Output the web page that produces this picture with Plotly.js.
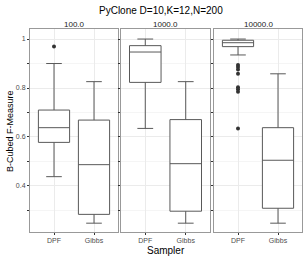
<!DOCTYPE html>
<html>
<head>
<meta charset="utf-8">
<script src="https://cdn.plot.ly/plotly-3.0.1.min.js"></script>
<style>html,body{margin:0;padding:0;background:#fff;}#chart{width:308px;height:260px;}</style>
</head>
<body>
<div id="chart"></div>
<script>
var categories = ['DPF', 'Gibbs'];
var panels = ['100.0', '1000.0', '10000.0'];

var q1 = [[0.578, 0.284], [0.823, 0.297], [0.969, 0.309]];
var median = [[0.638, 0.487], [0.947, 0.491], [0.985, 0.505]];
var q3 = [[0.710, 0.669], [0.973, 0.671], [0.995, 0.638]];
var lowerfence = [[0.438, 0.248], [0.635, 0.248], [0.935, 0.248]];
var upperfence = [[0.900, 0.826], [1.000, 0.826], [1.000, 0.858]];

var outlierCats = [['DPF'], [], ['DPF', 'DPF', 'DPF', 'DPF', 'DPF', 'DPF', 'DPF', 'DPF']];
var outlierVals = [[0.970], [], [0.894, 0.886, 0.876, 0.858, 0.803, 0.795, 0.785, 0.635]];

var font = 'Liberation Sans, Arial, sans-serif';
var data = [];
var suffix = ['', '2', '3'];
for (var i = 0; i < 3; i++) {
  data.push({
    type: 'box', x: categories, q1: q1[i], median: median[i], q3: q3[i],
    lowerfence: lowerfence[i], upperfence: upperfence[i],
    boxpoints: false, width: 0.78, fillcolor: '#ffffff',
    line: {color: '#595959', width: 1},
    xaxis: 'x' + suffix[i], yaxis: 'y' + suffix[i], showlegend: false, hoverinfo: 'skip'
  });
  if (outlierVals[i].length) {
    data.push({
      type: 'scatter', mode: 'markers', x: outlierCats[i], y: outlierVals[i],
      marker: {color: '#333333', size: 4},
      xaxis: 'x' + suffix[i], yaxis: 'y' + suffix[i], showlegend: false, hoverinfo: 'skip'
    });
  }
}

var xdom = [[30/308, 118/308], [121/308, 210/308], [214/308, 302/308]];
var ydom = [1 - 232/260, 1 - 29/260];
var layout = {
  width: 308, height: 260,
  margin: {l: 0, r: 0, t: 0, b: 0},
  paper_bgcolor: '#ffffff', plot_bgcolor: '#ffffff',
  font: {family: font, color: '#333'},
  showlegend: false,
  annotations: [],
  shapes: []
};
for (var i = 0; i < 3; i++) {
  layout['xaxis' + suffix[i]] = {
    domain: xdom[i], anchor: 'y' + suffix[i], type: 'category',
    categoryarray: categories, range: [-0.6, 1.6],
    showgrid: true, gridcolor: '#ebebeb', gridwidth: 1,
    showline: true, mirror: true, linecolor: '#999999', linewidth: 1,
    ticks: 'outside', ticklen: 2, tickcolor: '#333333',
    tickfont: {size: 7, color: '#4d4d4d', family: font}, zeroline: false
  };
  layout['yaxis' + suffix[i]] = {
    domain: ydom, anchor: 'x' + suffix[i], range: [0.212, 1.041],
    tick0: 0, dtick: 0.2, tickformat: '~g',
    showticklabels: i === 0,
    showgrid: true, gridcolor: '#ebebeb', gridwidth: 1,
    minor: {dtick: 0.1, tick0: 0, showgrid: true, gridcolor: '#f5f5f5', ticks: 'outside', ticklen: 2, tickcolor: '#333333'},
    showline: true, mirror: true, linecolor: '#999999', linewidth: 1,
    ticks: 'outside', ticklen: 2, tickcolor: '#333333',
    tickfont: {size: 7, color: '#4d4d4d', family: font}, zeroline: false
  };
  layout.annotations.push({
    text: panels[i], xref: 'paper', yref: 'paper',
    x: (xdom[i][0] + xdom[i][1]) / 2, y: 1 - 24/260,
    showarrow: false, xanchor: 'center', yanchor: 'middle',
    font: {size: 8, color: '#1a1a1a', family: font}
  });
}
layout.annotations.push({
  text: 'PyClone D=10,K=12,N=200', xref: 'paper', yref: 'paper',
  x: 161/308, y: 1 - 11/260, showarrow: false, xanchor: 'center', yanchor: 'middle',
  font: {size: 10, color: '#000', family: font}
});
layout.annotations.push({
  text: 'Sampler', xref: 'paper', yref: 'paper',
  x: 166/308, y: 1 - 250/260, showarrow: false, xanchor: 'center', yanchor: 'middle',
  font: {size: 10, color: '#000', family: font}
});
layout.annotations.push({
  text: 'B-Cubed F-Measure', xref: 'paper', yref: 'paper',
  x: 10/308, y: 1 - 131/260, showarrow: false, xanchor: 'center', yanchor: 'middle',
  textangle: -90,
  font: {size: 9, color: '#000', family: font}
});

Plotly.newPlot('chart', data, layout, {staticPlot: true, displayModeBar: false});
</script>
</body>
</html>
